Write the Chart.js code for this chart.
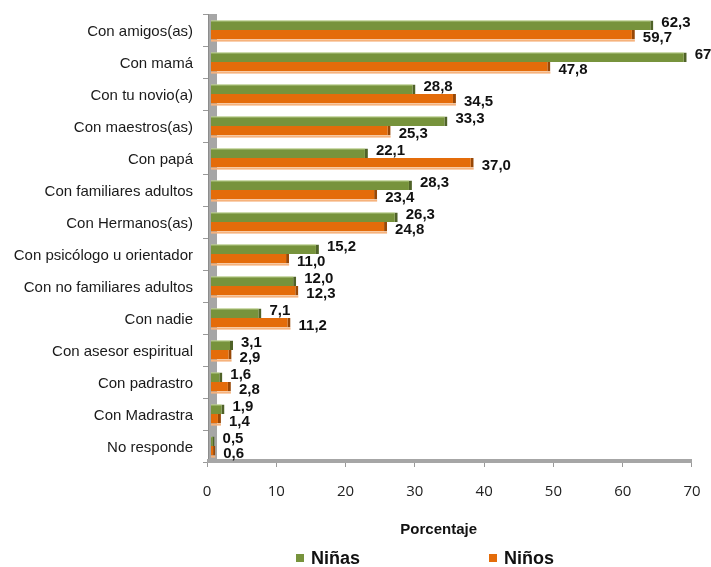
<!DOCTYPE html>
<html>
<head>
<meta charset="utf-8">
<script src="https://cdn.jsdelivr.net/npm/chart.js@4.4.1/dist/chart.umd.min.js"></script>
<style>
  body { margin: 0; background: #fff; }
  #wrap { position: relative; width: 711px; height: 567px; }
  .leg { position: absolute; top: 548px; height: 20px; display: flex; align-items: center;
         font: bold 18px "Liberation Sans", Arial, sans-serif; color: #111; }
  .leg i { display: inline-block; width: 8px; height: 8px; margin-right: 7px; }
</style>
</head>
<body>
<div id="wrap">
  <canvas id="chart" width="711" height="567"></canvas>
  <div class="leg" style="left:296px"><i style="background:#77933c"></i>Niñas</div>
  <div class="leg" style="left:489px"><i style="background:#e46c0a"></i>Niños</div>
</div>
<script>
// datos
const categorias = [
  'Con amigos(as)', 'Con mamá', 'Con tu novio(a)', 'Con maestros(as)', 'Con papá',
  'Con familiares adultos', 'Con Hermanos(as)', 'Con psicólogo u orientador',
  'Con no familiares adultos', 'Con nadie', 'Con asesor espiritual', 'Con padrastro',
  'Con Madrastra', 'No responde'
];
const ninas = [62.3, 67, 28.8, 33.3, 22.1, 28.3, 26.3, 15.2, 12.0, 7.1, 3.1, 1.6, 1.9, 0.5];
const ninos = [59.7, 47.8, 34.5, 25.3, 37.0, 23.4, 24.8, 11.0, 12.3, 11.2, 2.9, 2.8, 1.4, 0.6];
const ninasTxt = ['62,3', '67', '28,8', '33,3', '22,1', '28,3', '26,3', '15,2', '12,0', '7,1', '3,1', '1,6', '1,9', '0,5'];
const ninosTxt = ['59,7', '47,8', '34,5', '25,3', '37,0', '23,4', '24,8', '11,0', '12,3', '11,2', '2,9', '2,8', '1,4', '0,6'];
const ticksX = [0, 10, 20, 30, 40, 50, 60, 70];

const VERDE = '#77933c';
const NARANJA = '#e46c0a';

// pared y piso grises del grafico 3D
const paredPlugin = {
  id: 'pared',
  beforeDatasetsDraw(chart) {
    const { ctx, chartArea } = chart;
    const ax = chart.scales.x2;
    const x0 = ax.getPixelForValue(0);
    const x70 = ax.getPixelForValue(70);
    ctx.save();
    ctx.fillStyle = '#a6a6a6';
    ctx.fillRect(x0 + 1, chartArea.top, 9, chartArea.bottom - chartArea.top);
    ctx.fillStyle = '#8c8c8c';
    ctx.fillRect(x0 + 1, chartArea.top, 1, chartArea.bottom - chartArea.top);
    ctx.fillStyle = '#a6a6a6';
    ctx.fillRect(x0, chartArea.bottom - 3, x70 - x0, 4);
    ctx.restore();
  }
};

// etiquetas de valores + brillo 3D de las barras
const etiquetasPlugin = {
  id: 'etiquetas',
  afterDatasetsDraw(chart) {
    const { ctx } = chart;
    const textos = [ninasTxt, ninosTxt];
    const dy = [-2, 3];
    const brillo = ['#c3d69b', '#f6b27c'];
    ctx.save();
    chart.data.datasets.forEach((ds, i) => {
      chart.getDatasetMeta(i).data.forEach(bar => {
        const h = bar.height;
        ctx.fillStyle = brillo[i];
        if (i === 0) ctx.fillRect(bar.base, bar.y - h / 2, bar.x - bar.base - 3, 1);
        else ctx.fillRect(bar.base, bar.y + h / 2, bar.x - bar.base, 2);
      });
    });
    ctx.font = 'bold 15px "Liberation Sans", Arial, sans-serif';
    ctx.fillStyle = '#111';
    ctx.textBaseline = 'middle';
    ctx.textAlign = 'left';
    chart.data.datasets.forEach((ds, i) => {
      chart.getDatasetMeta(i).data.forEach((bar, j) => {
        ctx.fillText(textos[i][j], bar.x + 8, bar.y + dy[i]);
      });
    });
    ctx.restore();
  }
};

new Chart(document.getElementById('chart'), {
  type: 'bar',
  data: {
    labels: categorias,
    datasets: [
      {
        label: 'Niñas', data: ninas, backgroundColor: VERDE,
        borderColor: '#4f6228', borderWidth: { top: 0, right: 3, bottom: 0, left: 0 }, borderSkipped: false
      },
      {
        label: 'Niños', data: ninos, backgroundColor: NARANJA,
        borderColor: '#984807', borderWidth: { top: 0, right: 3, bottom: 0, left: 0 }, borderSkipped: false
      }
    ]
  },
  options: {
    indexAxis: 'y',
    responsive: false,
    animation: false,
    layout: { padding: { top: 14, right: 3, left: 0, bottom: 0 } },
    categoryPercentage: 0.6,
    barPercentage: 1.0,
    plugins: { legend: { display: false }, tooltip: { enabled: false } },
    scales: {
      y: {
        afterFit: s => { s.width = 211; s.paddingTop = 0; s.paddingBottom = 0; },
        ticks: { color: '#1a1a1a', padding: 10, labelOffset: 2, font: { family: '"Liberation Sans", Arial, sans-serif', size: 15 } },
        grid: { offset: true, drawOnChartArea: false, tickLength: 8, color: '#999' },
        border: { display: false }
      },
      x: { min: 0, max: 70, display: false },
      x2: {
        type: 'linear',
        position: 'bottom',
        min: 0.577,
        max: 72.31,
        afterBuildTicks: s => { s.ticks = ticksX.map(v => ({ value: v })); },
        afterFit: s => { s.height = 105; s.paddingLeft = 0; s.paddingRight = 0; },
        ticks: { color: '#222', padding: 16, font: { family: '"Open Sans", sans-serif', size: 15 } },
        grid: { drawOnChartArea: false, tickLength: 5, color: '#999' },
        border: { display: false },
        title: {
          display: true, text: 'Porcentaje\u00a0\u00a0\u00a0\u00a0\u00a0\u00a0\u00a0\u00a0\u00a0\u00a0', color: '#111',
          font: { family: '"Liberation Sans", Arial, sans-serif', size: 15, weight: 'bold' },
          padding: { top: 0, bottom: 28 }
        }
      }
    }
  },
  plugins: [paredPlugin, etiquetasPlugin]
});
</script>
</body>
</html>
